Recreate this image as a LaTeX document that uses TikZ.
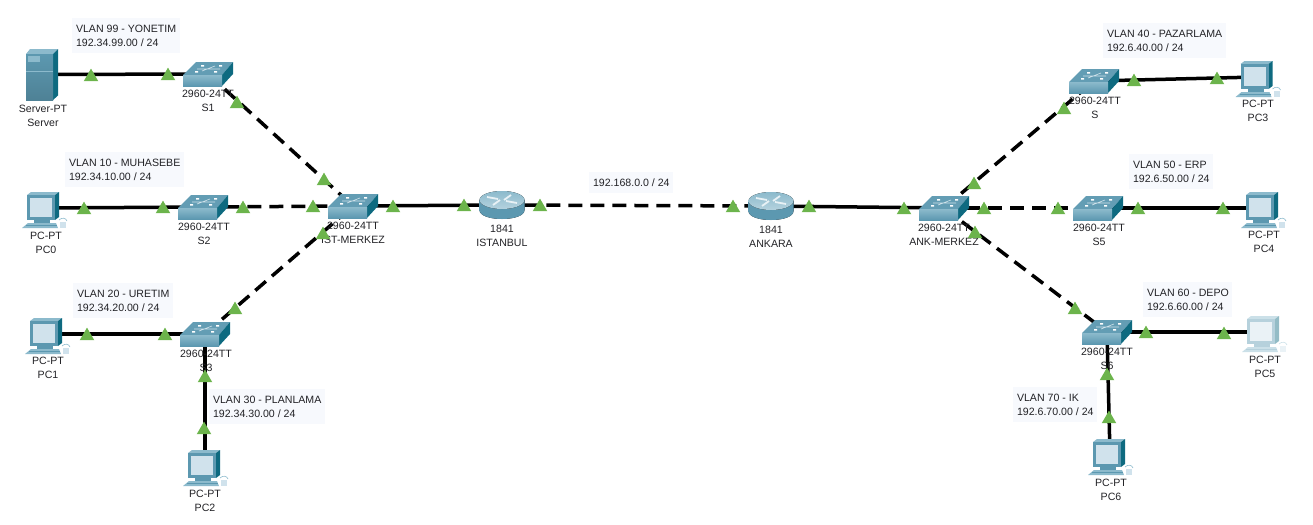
\documentclass[tikz,border=0pt]{standalone}
\usepackage{fontspec}
\usepackage{xcolor}
\usepackage{tikz}
\setmainfont{Liberation Sans}
\usetikzlibrary{shapes.geometric}
\definecolor{LitGreen}{RGB}{108,180,76}
\definecolor{LabelFill}{RGB}{247,249,253}
\definecolor{LabelText}{RGB}{34,34,38}
\definecolor{IconTeal}{RGB}{92,152,176}
\definecolor{IconPale}{RGB}{140,186,204}
\definecolor{IconDark}{RGB}{14,106,128}
\definecolor{ScreenFill}{RGB}{208,226,236}

\begin{document}
\begin{tikzpicture}[
x=0.5pt,y=-0.5pt,
dev/.style={inner sep=0pt,minimum size=0pt},
devlabel/.style={inner sep=0pt,align=center,text=LabelText,font=\fontsize{5.3}{7}\selectfont},
vlanbox/.style={anchor=north west,fill=LabelFill,inner xsep=1.8pt,inner ysep=3.2pt,align=left,text=LabelText,font=\fontsize{5.3}{7}\selectfont},
link/.style={line width=1.75pt,draw=black},
trunk/.style={link,dash pattern=on 7pt off 4pt},
lit/.style={regular polygon,regular polygon sides=3,fill=LitGreen,inner sep=0pt,minimum size=8.4pt},
pics/switchicon/.style={code={
  \fill[IconTeal!85!IconPale] (-25,1)--(-12,-12)--(25,-12)--(14,1)--cycle;
  \fill[IconDark] (14,1)--(25,-12)--(25,0)--(14,12)--cycle;
  \fill[top color=IconPale,bottom color=IconTeal] (-25,1) rectangle (14,12);
  \draw[white!60!IconPale,line width=.3pt] (-11,-5)--(12,-5) (-6,-3)--(7,-8);
  \fill[white] (-13,-3) rectangle ++(3,1.5) (6,-3) rectangle ++(3,1.5) (-7,-9) rectangle ++(3,1.5) (11,-9) rectangle ++(3,1.5);
}},
pics/routericon/.style={code={
  \fill[left color=IconTeal,middle color=white!55!IconPale,right color=IconTeal] (-22.5,-5)--(-22.5,5) .. controls (-22.5,17) and (22.5,17) .. (22.5,5)--(22.5,-5)--cycle;
  \fill[top color=IconPale,bottom color=white!35!IconPale] (0,-5) ellipse [x radius=11.25pt,y radius=4.5pt];
  \draw[white!80!IconPale,line width=.9pt] (-15,-8)--(-4,-6) (15,-2)--(4,-4) (-9,0)--(-2,-5) (9,-10)--(2,-5);
}},
pics/pcicon/.style={code={
  \fill[IconPale!#1!white] (-17,-13)--(-13,-16)--(15,-16)--(11,-13)--cycle;
  \fill[IconDark!#1!white] (11,-13)--(15,-16)--(15,9)--(11,12)--cycle;
  \fill[IconTeal!#1!white] (-17,-13) rectangle (11,12);
  \fill[ScreenFill!#1!white] (-14,-10) rectangle (8,9);
  \fill[IconTeal!#1!white] (-10,12) rectangle (6,16);
  \fill[IconPale!#1!white] (-22,20)--(-16,15)--(12,15)--(14,20)--cycle;
  \draw[IconTeal!#1!white,line width=.3pt] (-18,17.5)--(13,17.5);
  \fill[ScreenFill!#1!white] (16,14) rectangle (22,20);
  \draw[IconPale!#1!white,line width=.3pt] (15,12) .. controls (18,9) and (22,10) .. (23,13);
}},
pics/servericon/.style={code={
  \fill[IconPale] (-15,-20.5)--(-11,-25.5)--(17,-25.5)--(12,-20.5)--cycle;
  \fill[IconDark] (12,-20.5)--(17,-25.5)--(17,21)--(12,25.5)--cycle;
  \fill[top color=IconTeal,bottom color=IconTeal!85!black] (-15,-20.5) rectangle (12,25.5);
  \fill[IconPale] (-13,-18.5) rectangle (-1,-13);
  \draw[IconPale,line width=.3pt] (-15,-3)--(12,-3);
}}
]
\useasboundingbox (0,0) rectangle (1313,525);

% subnet labels
\node[vlanbox] (v99) at (72,18) {VLAN 99 - YONETIM\\192.34.99.00 / 24};
\node[vlanbox] (v10) at (65,152) {VLAN 10 - MUHASEBE\\192.34.10.00 / 24};
\node[vlanbox] (v20) at (73,283) {VLAN 20 - URETIM\\192.34.20.00 / 24};
\node[vlanbox] (v30) at (209,389) {VLAN 30 - PLANLAMA\\192.34.30.00 / 24};
\node[vlanbox] (wan) at (589,172) {192.168.0.0 / 24};
\node[vlanbox] (v40) at (1103,23) {VLAN 40 - PAZARLAMA\\192.6.40.00 / 24};
\node[vlanbox] (v50) at (1129,154) {VLAN 50 - ERP\\192.6.50.00 / 24};
\node[vlanbox] (v60) at (1143,282) {VLAN 60 - DEPO\\192.6.60.00 / 24};
\node[vlanbox] (v70) at (1013,387) {VLAN 70 - IK\\192.6.70.00 / 24};

% devices
\node[dev] (Server) at (41,74.5) {};
\node[dev] (PC0) at (44,208) {};
\node[dev] (PC1) at (47,334) {};
\node[dev] (PC2) at (205,466) {};
\node[dev] (PC3) at (1257.5,77) {};
\node[dev] (PC4) at (1263,208) {};
\node[dev] (PC5) at (1264,332) {};
\node[dev] (PC6) at (1110,455) {};
\node[dev] (S1) at (208,74) {};
\node[dev] (S2) at (203,207) {};
\node[dev] (S3) at (205,334) {};
\node[dev] (IST) at (353,206) {};
\node[dev] (ANK) at (944,208) {};
\node[dev] (S) at (1094,81) {};
\node[dev] (S5) at (1098,208) {};
\node[dev] (S6) at (1107,332) {};
\node[dev] (ISTANBUL) at (502,205) {};
\node[dev] (ANKARA) at (771,206) {};

% links
\draw[link] (Server)--(S1);
\draw[link] (PC0)--(S2);
\draw[link] (PC1)--(S3);
\draw[link] (PC2)--(S3);
\draw[link] (IST)--(ISTANBUL);
\draw[link] (ANKARA)--(ANK);
\draw[link] (S)--(PC3);
\draw[link] (S5)--(PC4);
\draw[link] (S6)--(PC5);
\draw[link] (PC6)--(S6);
\draw[trunk] (S1)--(IST);
\draw[trunk] (S2)--(IST);
\draw[trunk] (S3)--(IST);
\draw[trunk] (ISTANBUL)--(ANKARA);
\draw[trunk] (ANK)--(S);
\draw[trunk] (ANK)--(S5);
\draw[trunk] (ANK)--(S6);

% icons
\foreach \n in {S1,S2,S3,IST,ANK,S,S5,S6} \pic at (\n) {switchicon};
\foreach \n in {ISTANBUL,ANKARA} \pic at (\n) {routericon};
\foreach \n/\t in {PC0/100,PC1/100,PC2/100,PC3/100,PC4/100,PC5/45,PC6/100} \pic at (\n) {pcicon=\t};
\pic at (Server) {servericon};

% device names
\node[devlabel] (lServer) at (43,116) {Server-PT\\Server};
\node[devlabel] (lS1) at (208,101) {2960-24TT\\S1};
\node[devlabel] (lS2) at (204,234) {2960-24TT\\S2};
\node[devlabel] (lIST) at (353,233) {2960-24TT\\IST-MERKEZ};
\node[devlabel] (lPC0) at (46,243) {PC-PT\\PC0};
\node[devlabel] (lPC1) at (48,368) {PC-PT\\PC1};
\node[devlabel] (lS3) at (206,361) {2960-24TT\\S3};
\node[devlabel] (lPC2) at (205,501) {PC-PT\\PC2};
\node[devlabel] (lISTANBUL) at (502,236) {1841\\ISTANBUL};
\node[devlabel] (lANKARA) at (771,237) {1841\\ANKARA};
\node[devlabel] (lANK) at (944,235) {2960-24TT\\ANK-MERKEZ};
\node[devlabel] (lS5) at (1099,235) {2960-24TT\\S5};
\node[devlabel] (lS) at (1095,108) {2960-24TT\\S};
\node[devlabel] (lPC3) at (1258,111) {PC-PT\\PC3};
\node[devlabel] (lPC4) at (1264,242) {PC-PT\\PC4};
\node[devlabel] (lS6) at (1107,359) {2960-24TT\\S6};
\node[devlabel] (lPC5) at (1265,367) {PC-PT\\PC5};
\node[devlabel] (lPC6) at (1111,490) {PC-PT\\PC6};

% port lights
\foreach \x/\y [count=\i] in {91/77,168/76,237/104,324/181,84/210,163/209,243/209,313/208,393/208,323/235,
87/336,165/336,235/310,205/378,204/430,464/207,540/207,733/208,809/208,904/210,
974/185,1064/110,1134/82,1217/80,984/210,1058/210,1138/210,1223/210,975/234,
1075/310,1146/334,1224/335,1107/376,1109/419}
  \node[lit] (lit\i) at (\x,\y) {};
\end{tikzpicture}
\end{document}
